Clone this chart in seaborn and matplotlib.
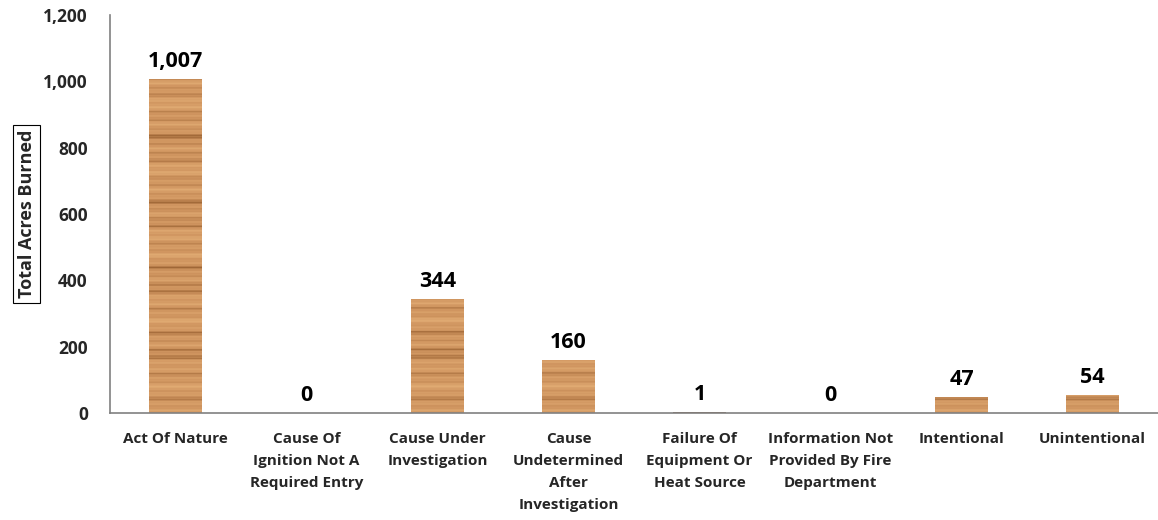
import numpy as np
import pandas as pd
import matplotlib
matplotlib.use("Agg")
import matplotlib.pyplot as plt
import seaborn as sns

categories = ["Act Of Nature", "Cause Of\nIgnition Not A\nRequired Entry", "Cause Under\nInvestigation",
              "Cause\nUndetermined\nAfter\nInvestigation", "Failure Of\nEquipment Or\nHeat Source",
              "Information Not\nProvided By Fire\nDepartment", "Intentional", "Unintentional"]
values = [1007, 0, 344, 160, 1, 0, 47, 54]
value_labels = ["1,007", "0", "344", "160", "1", "0", "47", "54"]
y_ticks = [0, 200, 400, 600, 800, 1000, 1200]
y_ticklabels = ["0", "200", "400", "600", "800", "1,000", "1,200"]

sns.set_theme(style="white")
plt.rcParams['font.family'] = ['Open Sans', 'DejaVu Sans']
plt.rcParams['font.weight'] = 'bold'

df = pd.DataFrame({"cat": categories, "val": values})
fig = plt.figure(figsize=(11.58, 5.2), dpi=100)
ax = fig.add_axes([110/1158, 1-413/520, 1048/1158, 398/520])
sns.barplot(data=df, x="cat", y="val", ax=ax, color="#C98F5A", width=0.4, saturation=1)

# wood-like texture (deterministic stripes) clipped to each bar
H = 500
rows = np.arange(H)
shade = (0.45 * np.sin(rows * 0.61) + 0.35 * np.sin(rows * 0.23 + 1.0) + 0.3 * np.sin(rows * 1.7 + 0.4)
         + 0.2 * np.sin(rows * 0.071))
shade = np.clip(shade, -1, 1)
base = np.array([0.82, 0.59, 0.38])
dark = np.array([0.62, 0.40, 0.21])
light = np.array([0.88, 0.67, 0.45])
tex = np.zeros((H, 8, 3))
for i, s in enumerate(shade):
    c = base + (light - base) * max(s, 0) + (dark - base) * max(-s, 0) ** 2
    tex[i, :, :] = c
for p in ax.patches:
    x0, y0 = p.get_x(), p.get_y()
    w, h = p.get_width(), p.get_height()
    if h <= 0:
        continue
    im = ax.imshow(tex, extent=[x0, x0 + w, 0, 1200], aspect='auto', zorder=p.get_zorder() + 0.1,
                   interpolation='bilinear')
    im.set_clip_path(p)
    if h < 5:
        p.set_facecolor("#7A5030")
        p.set_edgecolor("#7A5030")
        p.set_linewidth(1.2)

for i, (v, lab) in enumerate(zip(values, value_labels)):
    ax.text(i, v + 22, lab, ha='center', va='bottom', fontsize=15.5, fontweight='bold', color='black')

ax.set_xlim(-0.5, 7.5)
ax.set_ylim(0, 1200)
ax.set_yticks(y_ticks)
ax.set_yticklabels(y_ticklabels, fontsize=12.5, fontweight='bold')
ax.set_xticks(range(len(categories)))
ax.set_xticklabels(categories, fontsize=11, fontweight='bold', linespacing=1.72, va='top')
ax.tick_params(axis='x', length=0, pad=14)
ax.tick_params(axis='y', length=0, pad=16)
ax.set_xlabel("")
ax.set_ylabel("Total Acres Burned", fontsize=13, fontweight='bold',
              bbox=dict(boxstyle='square,pad=0.25', fc='white', ec='black', lw=0.8))
ax.yaxis.set_label_coords(-0.071, 0.5)
for s in ["top", "right"]:
    ax.spines[s].set_visible(False)
for s in ["left", "bottom"]:
    ax.spines[s].set_color("#808080")
    ax.spines[s].set_linewidth(1.2)

fig.savefig("out.png", dpi=100)
